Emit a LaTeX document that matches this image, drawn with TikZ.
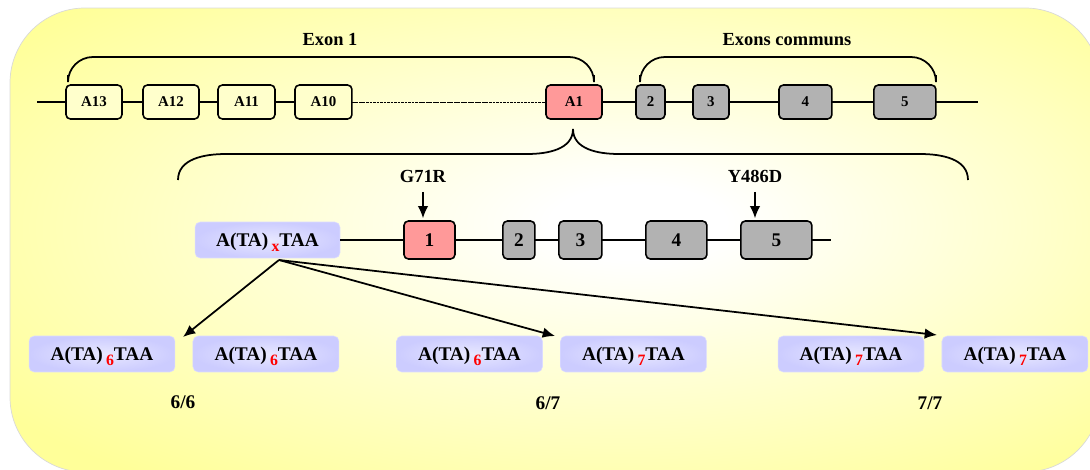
\documentclass[tikz,border=0pt]{standalone}
\usepackage{fontspec}
\setmainfont{Liberation Serif}
\usepackage{xcolor}
\usepackage{tikz}
\usetikzlibrary{arrows.meta,positioning}
\definecolor{bgyellow}{HTML}{FFFF99}
\definecolor{exonpink}{HTML}{FF9999}
\definecolor{exongray}{HTML}{B2B2B2}
\definecolor{exonpale}{HTML}{FFFFCC}
\definecolor{lavender}{HTML}{CCCCFF}
\pgfdeclareradialshading{bgglow}{\pgfpoint{4bp}{2bp}}{color(0bp)=(white); color(4bp)=(white); color(34bp)=(bgyellow); color(80bp)=(bgyellow)}
\newcommand{\tarepeat}[1]{A(TA)\,\raisebox{-0.5ex}[0pt][0pt]{\fontsize{9}{9}\selectfont\textcolor{red}{#1}}TAA}

\begin{document}
\begin{tikzpicture}[
    x=0.02cm, y=-0.02cm,
    exon/.style={rectangle, draw=black, line width=0.9pt, rounded corners=2.5pt, inner sep=0pt, outer sep=0pt, minimum height=0.68cm, font=\bfseries\fontsize{8.5}{10}\selectfont},
    exonbig/.style={exon, minimum height=0.76cm, font=\bfseries\fontsize{11}{12}\selectfont},
    promoter/.style={rectangle, rounded corners=3pt, inner color=white!55!lavender, outer color=lavender, draw=lavender!70!white, line width=0.3pt, minimum width=2.92cm, minimum height=0.72cm, inner sep=0pt, outer sep=0pt, text depth=0pt, font=\bfseries\fontsize{11}{12}\selectfont},
    title/.style={font=\bfseries\fontsize{10.5}{12}\selectfont},
    gene/.style={line width=1pt},
    brace/.style={line width=1pt, rounded corners=0.5cm},
    arr/.style={-{Latex[length=7pt,width=6pt]}, line width=1pt}
]
\useasboundingbox (0,0) rectangle (1090,470);

% background panel
\shade[shading=bgglow, rounded corners=1.5cm, draw=black!15, line width=0.4pt] (10,8) rectangle (1100,472);

% Gene with alternative first exons
\node[exon, fill=exonpale, minimum width=1.12cm] (a13) at (94,102) {A13};
\node[exon, fill=exonpale, minimum width=1.12cm, right=0.42cm of a13] (a12) {A12};
\node[exon, fill=exonpale, minimum width=1.14cm, right=0.38cm of a12] (a11) {A11};
\node[exon, fill=exonpale, minimum width=1.14cm, right=0.4cm of a11] (a10) {A10};
\node[exon, fill=exonpink, minimum width=1.12cm] (a1) at (574,102) {A1};
\node[exon, fill=exongray, minimum width=0.58cm, right=0.68cm of a1] (c2) {2};
\node[exon, fill=exongray, minimum width=0.72cm, right=0.56cm of c2] (c3) {3};
\node[exon, fill=exongray, minimum width=1.06cm, right=1.0cm of c3] (c4) {4};
\node[exon, fill=exongray, minimum width=1.24cm, right=0.84cm of c4] (c5) {5};
\coordinate (topstart) at (37,102);
\coordinate (topend) at (978,102);

\draw[gene] (topstart) -- (a13) -- (a12) -- (a11) -- (a10);
\draw[line width=0.5pt, dash pattern=on 1.6pt off 0.4pt] (a10) -- (a1);
\draw[gene] (a1) -- (c2) -- (c3) -- (c4) -- (c5) -- (topend);

% braces over the first row
\draw[brace] (68,75) |- (330,57) -| (594,75);
\node[title] (exon1) at (330,40) {Exon 1};
\draw[brace] (640,75) |- (787,57) -| (936,75);
\node[title] (communs) at (787,40) {Exons communs};

% curly brace opening on the transcript
\draw[line width=1pt] (178,180) to[out=90,in=180] (226,154) -- (527,154) to[out=0,in=-90] (573,129)
    to[out=-90,in=180] (619,154) -- (920,154) to[out=0,in=90] (968,180);

% Transcript with promoter and mutations
\node[promoter, minimum width=2.9cm] (atax) at (267.5,240) {\tarepeat{x}};
\node[exonbig, fill=exonpink, minimum width=1.02cm, right=1.28cm of atax] (m1) {1};
\node[exonbig, fill=exongray, minimum width=0.64cm, right=0.96cm of m1] (m2) {2};
\node[exonbig, fill=exongray, minimum width=0.86cm, right=0.48cm of m2] (m3) {3};
\node[exonbig, fill=exongray, minimum width=1.22cm, right=0.88cm of m3] (m4) {4};
\node[exonbig, fill=exongray, minimum width=1.42cm, right=0.68cm of m4] (m5) {5};
\coordinate (midend) at (831,240);
\draw[gene] (atax) -- (m1) -- (m2) -- (m3) -- (m4) -- (m5) -- (midend);

\node[title] (g71r) at (423,176) {G71R};
\node[title] (y486d) at (755,176) {Y486D};
\draw[arr, shorten <=2pt, shorten >=1.5pt] (g71r.south) -- (g71r.south |- m1.north);
\draw[arr, shorten <=2pt, shorten >=1.5pt] (y486d.south) -- (y486d.south |- m5.north);

% Genotypes
\node[promoter] (g66a) at (102,354) {\tarepeat{6}};
\node[promoter, right=0.36cm of g66a] (g66b) {\tarepeat{6}};
\node[promoter] (g67a) at (469.5,354) {\tarepeat{6}};
\node[promoter, right=0.36cm of g67a] (g67b) {\tarepeat{7}};
\node[promoter] (g77a) at (851,354) {\tarepeat{7}};
\node[promoter, right=0.36cm of g77a] (g77b) {\tarepeat{7}};

\node[title, font=\bfseries\fontsize{11}{12}\selectfont] (l66) at (183,402) {6/6};
\node[title, font=\bfseries\fontsize{11}{12}\selectfont] (l67) at (548,403) {6/7};
\node[title, font=\bfseries\fontsize{11}{12}\selectfont] (l77) at (930,403) {7/7};

\coordinate (fork) at (279,260);
\coordinate (to66) at (183,337);
\coordinate (to67) at (555,336);
\coordinate (to77) at (937,335);
\draw[arr] (fork) -- (to66);
\draw[arr] (fork) -- (to67);
\draw[arr] (fork) -- (to77);

\end{tikzpicture}
\end{document}
